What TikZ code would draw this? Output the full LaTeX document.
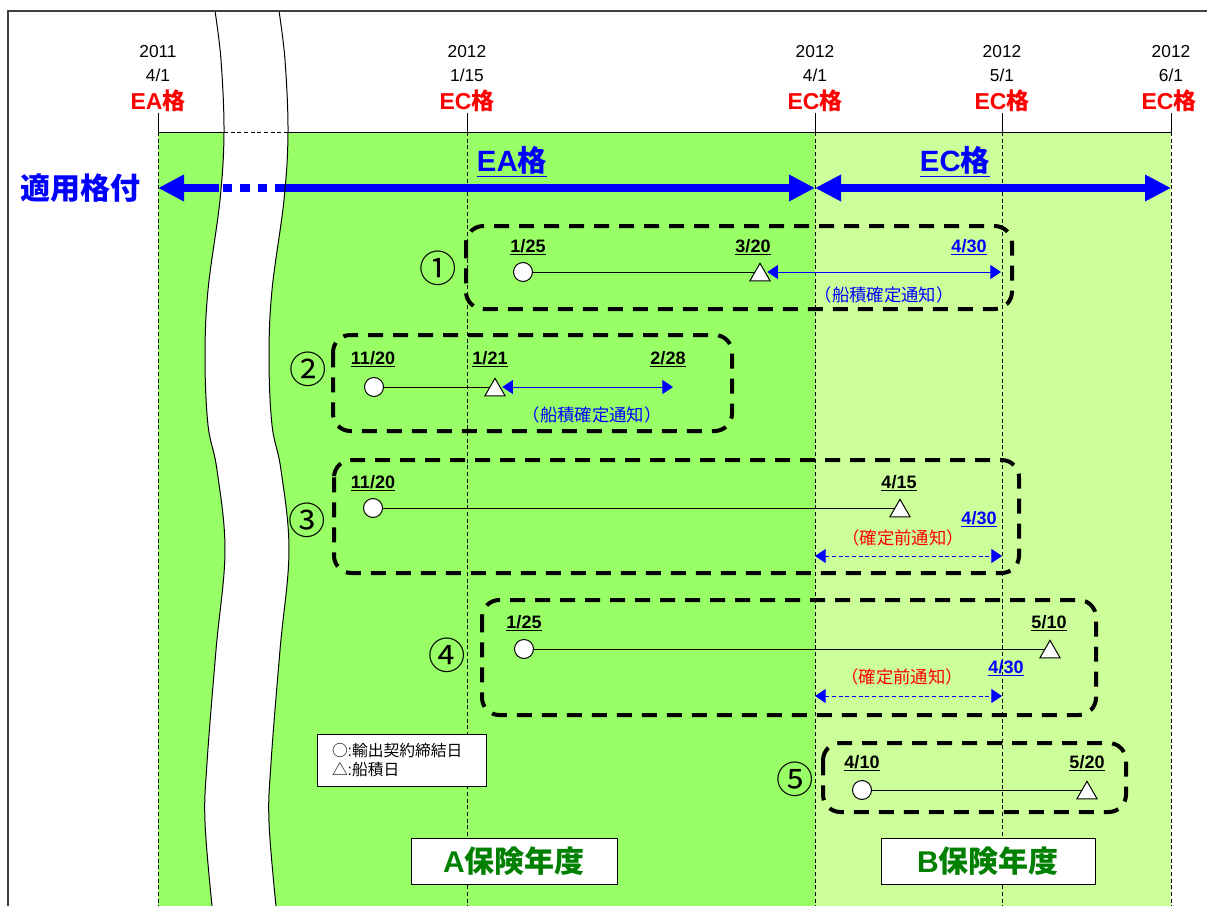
\documentclass[tikz,border=0pt]{standalone}
\usepackage{fontspec}
\setmainfont{Liberation Sans}
\newfontfamily\cjk{Noto Sans CJK JP}
\usetikzlibrary{arrows.meta,shapes.geometric}
\definecolor{bgreen}{HTML}{99FF66}
\definecolor{lgreen}{HTML}{CCFF99}
\definecolor{dgreen}{HTML}{008000}
\definecolor{myblue}{HTML}{0000FF}
\definecolor{myred}{HTML}{FF0000}
\definecolor{framegray}{HTML}{404040}
\newcommand\J[1]{{\cjk #1}}
\newcommand\fs[1]{\fontsize{#1}{#1}\selectfont}
\begin{document}
\begin{tikzpicture}[x=0.75pt,y=-0.75pt,
  vline/.style={line width=0.6pt, dash pattern=on 3pt off 2pt},
  tickline/.style={line width=0.75pt},
  yeartxt/.style={font=\fs{13}, inner sep=0pt},
  ectxt/.style={font=\fs{17.25}\bfseries, text=myred, inner sep=0pt},
  datelbl/.style={font=\fs{13.5}\bfseries, inner sep=0pt},
  circnum/.style={font=\fs{28}, inner sep=0pt},
  grpbox/.style={line width=3pt, dash pattern=on 11.25pt off 7.5pt, rounded corners=13pt},
  markc/.style={circle, draw, fill=white, minimum size=14.25pt, inner sep=0pt, line width=0.75pt},
  markt/.style={regular polygon, regular polygon sides=3, draw, fill=white, minimum size=17.5pt, inner sep=0pt, line width=0.75pt},
  tline/.style={line width=0.75pt},
  barrow/.style={myblue, line width=6pt},
  sarrow/.style={myblue, line width=0.75pt, {Triangle[length=8pt,width=10.5pt]}-{Triangle[length=8pt,width=10.5pt]}},
  darrow/.style={myblue, line width=0.75pt, dash pattern=on 3pt off 2pt, {Triangle[length=8pt,width=10.5pt]}-{Triangle[length=8pt,width=10.5pt]}},
  notetxt/.style={font=\fs{13}, inner sep=0pt},
  yearbox/.style={draw, fill=white, line width=0.75pt, minimum height=34.5pt, inner sep=0pt, font=\fs{22.5}\bfseries, text=dgreen},
]
\useasboundingbox (0,0) rectangle (1207,906);
\fill[white] (0,0) rectangle (1207,906);

% background zones
\fill[bgreen] (158,132) rectangle (815,906);
\fill[lgreen] (815,132) rectangle (1171,906);

% header line
\draw[tickline] (158,132) -- (1171,132);

% vertical date lines
\foreach \X in {158,467,815,1002,1171}{
  \draw[tickline] (\X,113) -- (\X,132);
  \draw[vline] (\X,132) -- (\X,906);
}

% header labels
\node[yeartxt] (y1) at (158,52) {2011};
\node[yeartxt] (m1) at (158,75) {4/1};
\node[ectxt] (p1) at (158,101) {EA\J{格}};
\node[yeartxt] (y2) at (467,52) {2012};
\node[yeartxt] (m2) at (467,75) {1/15};
\node[ectxt] (p2) at (467,101) {EC\J{格}};
\node[yeartxt] (y3) at (815,52) {2012};
\node[yeartxt] (m3) at (815,75) {4/1};
\node[ectxt] (p3) at (815,101) {EC\J{格}};
\node[yeartxt] (y4) at (1002,52) {2012};
\node[yeartxt] (m4) at (1002,75) {5/1};
\node[ectxt] (p4) at (1002,101) {EC\J{格}};
\node[yeartxt] (y5) at (1171,52) {2012};
\node[yeartxt] (m5) at (1171,75) {6/1};
\node[ectxt] (p5) at (1169,101) {EC\J{格}};

% white break band
\fill[white] plot[smooth,tension=0.6] coordinates {(215,11) (221,60) (224,132) (220,200) (208,290) (205,358) (208,425) (217,470) (225,551) (216,650) (207,763) (205,822) (212,906)}
  -- plot[smooth,tension=0.6] coordinates {(276,906) (269,822) (271,763) (280,650) (289,551) (281,470) (272,425) (269,358) (272,290) (284,200) (288,132) (285,60) (279,11)} -- cycle;
\draw[tickline, dash pattern=on 3pt off 2pt] (224,132) -- (288,132);

% applied price arrows
\node[font=\fs{22.5}\bfseries, text=myblue, inner sep=0pt] (apl) at (81,188) {\J{適用格付}};
\coordinate (aL) at (158,188);
\coordinate (aL1) at (219,188);
\coordinate (aD1) at (223,188);
\coordinate (aD2) at (276,188);
\coordinate (aM) at (815,188);
\coordinate (aR) at (1171,188);
\draw[barrow, {Triangle[length=19.5pt,width=18.75pt]}-] (aL) -- (aL1);
\draw[barrow, dash pattern=on 7pt off 6pt] (aD1) -- (aD2);
\draw[barrow, -{Triangle[length=19.5pt,width=18.75pt]}] (aD2) -- (aM);
\draw[barrow, {Triangle[length=19.5pt,width=18.75pt]}-{Triangle[length=19.5pt,width=18.75pt]}] (aM) -- (aR);
\node[font=\fs{22}\bfseries, text=myblue, inner sep=0pt] (eal) at (512,162) {\underline{EA\J{格}}};
\node[font=\fs{22}\bfseries, text=myblue, inner sep=0pt] (ecl) at (955,162) {\underline{EC\J{格}}};

% band edges
\draw[line width=0.75pt] plot[smooth,tension=0.6] coordinates {(215,11) (221,60) (224,132) (220,200) (208,290) (205,358) (208,425) (217,470) (225,551) (216,650) (207,763) (205,822) (212,906)};
\draw[line width=0.75pt] plot[smooth,tension=0.6] coordinates {(279,11) (285,60) (288,132) (284,200) (272,290) (269,358) (272,425) (281,470) (289,551) (280,650) (271,763) (269,822) (276,906)};

% frame
\draw[framegray, line width=1.1pt] (8,906) -- (8,11) -- (1207,11);

% ---- case 1
\draw[grpbox] (466,226) rectangle (1012,309);
\node[circnum] (n1) at (438,268) {\J{①}};
\node[datelbl] (d1a) at (528,247) {\underline{1/25}};
\node[datelbl] (d1b) at (753,247) {\underline{3/20}};
\node[datelbl, text=myblue] (d1c) at (969,247) {\underline{4/30}};
\node[markc] (c1) at (523,272) {};
\coordinate (t1p) at (760,272);
\coordinate (e1) at (1001,272);
\draw[tline] (c1) -- (t1p);
\node[markt] (t1) at (760,275) {};
\draw[sarrow] (t1.east |- e1) -- (e1);
\node[notetxt, text=myblue] (k1) at (884,295) {\J{（船積確定通知）}};

% ---- case 2
\draw[grpbox] (333,335) rectangle (732,431);
\node[circnum] (n2) at (308,369) {\J{②}};
\node[datelbl] (d2a) at (373,359) {\underline{11/20}};
\node[datelbl] (d2b) at (490,359) {\underline{1/21}};
\node[datelbl] (d2c) at (668,359) {\underline{2/28}};
\node[markc] (c2) at (374,387) {};
\coordinate (t2p) at (495,387);
\coordinate (e2) at (673,387);
\draw[tline] (c2) -- (t2p);
\node[markt] (t2) at (495,390) {};
\draw[sarrow] (t2.east |- e2) -- (e2);
\node[notetxt, text=myblue] (k2) at (592,415) {\J{（船積確定通知）}};

% ---- case 3
\draw[grpbox] (334,460) rectangle (1019,573);
\node[circnum] (n3) at (307,520) {\J{③}};
\node[datelbl] (d3a) at (373,483) {\underline{11/20}};
\node[datelbl] (d3b) at (899,483) {\underline{4/15}};
\node[datelbl, text=myblue] (d3c) at (979,519) {\underline{4/30}};
\node[markc] (c3) at (373,508) {};
\coordinate (t3p) at (900,508);
\draw[tline] (c3) -- (t3p);
\node[markt] (t3) at (900,511) {};
\node[notetxt, text=myred] (k3) at (903,538) {\J{（確定前通知）}};
\coordinate (f3a) at (815,556);
\coordinate (f3b) at (1002,556);
\draw[darrow] (f3a) -- (f3b);

% ---- case 4
\draw[grpbox] (482,600) rectangle (1096,715);
\node[circnum] (n4) at (447,655) {\J{④}};
\node[datelbl] (d4a) at (524,623) {\underline{1/25}};
\node[datelbl] (d4b) at (1049,623) {\underline{5/10}};
\node[datelbl, text=myblue] (d4c) at (1006,668) {\underline{4/30}};
\node[markc] (c4) at (524,649) {};
\coordinate (t4p) at (1050,649);
\draw[tline] (c4) -- (t4p);
\node[markt] (t4) at (1050,652) {};
\node[notetxt, text=myred] (k4) at (902,677) {\J{（確定前通知）}};
\coordinate (f4a) at (815,696);
\coordinate (f4b) at (1002,696);
\draw[darrow] (f4a) -- (f4b);

% ---- case 5
\draw[grpbox] (823,743) rectangle (1126,812);
\node[circnum] (n5) at (795,779) {\J{⑤}};
\node[datelbl] (d5a) at (862,763) {\underline{4/10}};
\node[datelbl] (d5b) at (1087,763) {\underline{5/20}};
\node[markc] (c5) at (862,790) {};
\coordinate (t5p) at (1087,790);
\draw[tline] (c5) -- (t5p);
\node[markt] (t5) at (1087,793) {};

% legend
\node[draw, fill=white, line width=0.75pt, inner xsep=11.25pt, inner ysep=0pt, text width=104.25pt, minimum height=39pt, align=left, font=\fs{11.8}] (leg) at (401.5,760)
  {\J{○}:\J{輸出契約締結日}\\[2pt]\J{△}:\J{船積日}};

% fiscal year boxes
\node[yearbox, minimum width=154.5pt] (ya) at (514,861) {A\J{保険年度}};
\node[yearbox, minimum width=160.5pt] (yb) at (988,861) {B\J{保険年度}};
\end{tikzpicture}
\end{document}
